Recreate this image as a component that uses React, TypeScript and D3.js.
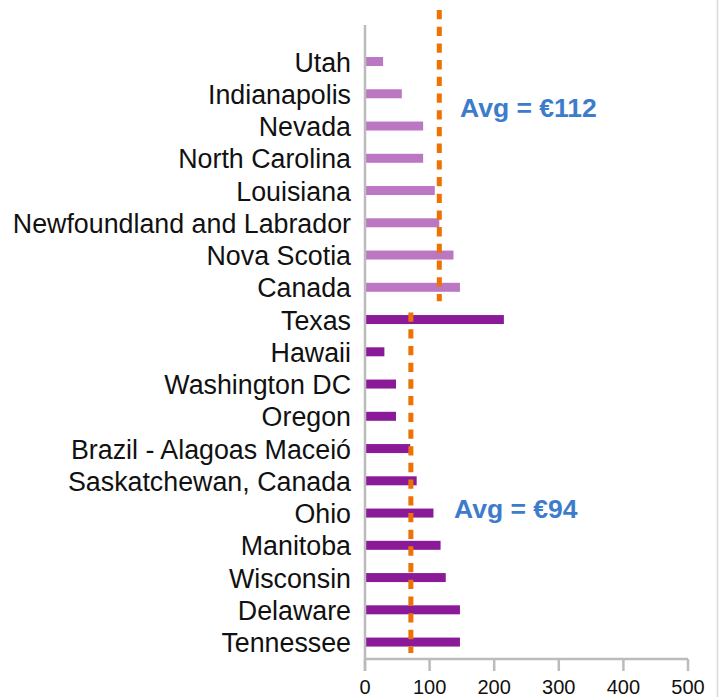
import * as d3 from "d3";

const categories = [
  "Utah",
  "Indianapolis",
  "Nevada",
  "North Carolina",
  "Louisiana",
  "Newfoundland and Labrador",
  "Nova Scotia",
  "Canada",
  "Texas",
  "Hawaii",
  "Washington DC",
  "Oregon",
  "Brazil - Alagoas Maceió",
  "Saskatchewan, Canada",
  "Ohio",
  "Manitoba",
  "Wisconsin",
  "Delaware",
  "Tennessee",
];
const values = [28, 57, 90, 90, 108, 115, 137, 147, 215, 30, 48, 48, 70, 80, 106, 117, 125, 147, 147];
// first 8 rows belong to the top group, rest to the bottom group
const groups = [0, 0, 0, 0, 0, 0, 0, 0, 1, 1, 1, 1, 1, 1, 1, 1, 1, 1, 1];
const avgPositions = [115, 71];
const avgLabels = ["Avg = €112", "Avg = €94"];
const xTicks = [0, 100, 200, 300, 400, 500];

const App = () => {
  const width = 722;
  const height = 697;
  const axisTop = 25;
  const axisBottom = 659;

  const xScale = d3.scaleLinear().domain([0, 500]).range([365, 688]);
  const yScale = d3
    .scalePoint<string>()
    .domain(categories)
    .range([45.4, 658.2])
    .padding(0.5);

  const barH = 9;
  const colors = ["#BC77C3", "#8B1A98"];
  const grey = "#BBBBBB";
  const font = "'Liberation Sans', Arial, Helvetica, sans-serif";

  const firstBottom = categories[groups.indexOf(1)];
  const lastTop = categories[groups.indexOf(1) - 1];
  const last = categories[categories.length - 1];
  const avgSpans: [number, number][] = [
    [10, yScale(lastTop)! + 14],
    [yScale(firstBottom)! - 7, yScale(last)! + 11],
  ];
  const labelPos = [
    { x: 460, y: 117 },
    { x: 454, y: 518 },
  ];

  return (
    <svg
      width={width}
      height={height}
      style={{ position: "absolute", left: 0, top: 0, background: "#fff" }}
    >
      <line x1={717.5} x2={717.5} y1={0} y2={height} stroke="#D9D9D9" strokeWidth={1.5} />

      {categories.map((c, i) => (
        <g key={c}>
          <rect
            x={xScale(0)}
            y={yScale(c)! - barH / 2}
            width={xScale(values[i]) - xScale(0)}
            height={barH}
            fill={colors[groups[i]]}
          />
          <text
            x={351}
            y={yScale(c)! + 10}
            textAnchor="end"
            fontFamily={font}
            fontSize={26.8}
            fill="#111"
          >
            {c}
          </text>
        </g>
      ))}

      {/* axes */}
      <line x1={xScale(0)} x2={xScale(0)} y1={axisTop} y2={axisBottom + 12} stroke={grey} strokeWidth={2.5} />
      <line x1={xScale(0)} x2={xScale(500)} y1={axisBottom} y2={axisBottom} stroke={grey} strokeWidth={2.5} />
      {xTicks.map((t) => (
        <g key={t}>
          <line x1={xScale(t)} x2={xScale(t)} y1={axisBottom} y2={axisBottom + 12} stroke={grey} strokeWidth={2.5} />
          <text
            x={xScale(t)}
            y={694}
            textAnchor="middle"
            fontFamily={font}
            fontSize={20}
            fill="#111"
          >
            {t}
          </text>
        </g>
      ))}

      {/* average lines */}
      {avgPositions.map((a, i) => (
        <g key={i}>
          <line
            x1={xScale(a)}
            x2={xScale(a)}
            y1={avgSpans[i][0]}
            y2={avgSpans[i][1]}
            stroke="#EE7203"
            strokeWidth={5}
            strokeDasharray="9.3 7.4"
          />
          <text
            x={labelPos[i].x}
            y={labelPos[i].y}
            fontFamily={font}
            fontWeight="bold"
            fontSize={26.5}
            fill="#3D7CCB"
          >
            {avgLabels[i]}
          </text>
        </g>
      ))}
    </svg>
  );
};

export default App;
